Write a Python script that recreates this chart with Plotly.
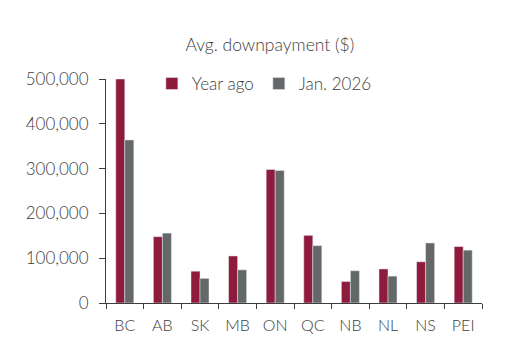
import plotly.graph_objects as go

provinces = ["BC", "AB", "SK", "MB", "ON", "QC", "NB", "NL", "NS", "PEI"]
year_ago = [500000, 148000, 71000, 105000, 298000, 151000, 48000, 76000, 92000, 126000]
jan_2026 = [364000, 156000, 55000, 74000, 296000, 128000, 72000, 60000, 134000, 118000]
y_ticks = [0, 100000, 200000, 300000, 400000, 500000]
y_tick_labels = ["0", "100,000", "200,000", "300,000", "400,000", "500,000"]

RED = "#8E1A3C"
GRAY = "#646868"
TXT = "#3E3E3E"
FONT = "Lato"

fig = go.Figure()
fig.add_trace(go.Bar(x=provinces, y=year_ago, name="Year ago", marker_color=RED))
fig.add_trace(go.Bar(x=provinces, y=jan_2026, name="Jan. 2026", marker_color=GRAY))

fig.update_layout(
    width=514, height=354,
    margin=dict(l=106, r=32, t=79, b=51),
    paper_bgcolor="white", plot_bgcolor="white",
    barmode="group", bargap=0.52, bargroupgap=0,
    font=dict(family=FONT, color=TXT, weight=300),
    title=dict(text="Avg. downpayment ($)", x=0.525, xanchor="center", y=0.873, yanchor="middle",
               font=dict(size=17.5, color=TXT, family=FONT, weight=300)),
    legend=dict(orientation="h", x=0.122, xanchor="left", y=0.978, yanchor="middle",
                font=dict(size=17, color=TXT, family=FONT, weight=300), bgcolor="rgba(0,0,0,0)",
                itemwidth=30, traceorder="normal"),
    showlegend=True,
)
fig.update_xaxes(
    type="category", showline=True, linecolor=TXT, linewidth=1,
    ticks="outside", tickson="boundaries", ticklen=5, tickcolor=TXT,
    tickfont=dict(size=16, color=TXT, family=FONT, weight=300), showgrid=False,
    ticklabelstandoff=8,
)
fig.update_yaxes(
    range=[0, 500000], tickvals=y_ticks, ticktext=y_tick_labels,
    showline=True, linecolor=TXT, linewidth=1, ticks="outside", ticklen=6, tickcolor=TXT,
    tickfont=dict(size=17, color=TXT, family=FONT, weight=300), showgrid=False, zeroline=False,
    ticklabelstandoff=7,
)

fig.write_html("out.html")
